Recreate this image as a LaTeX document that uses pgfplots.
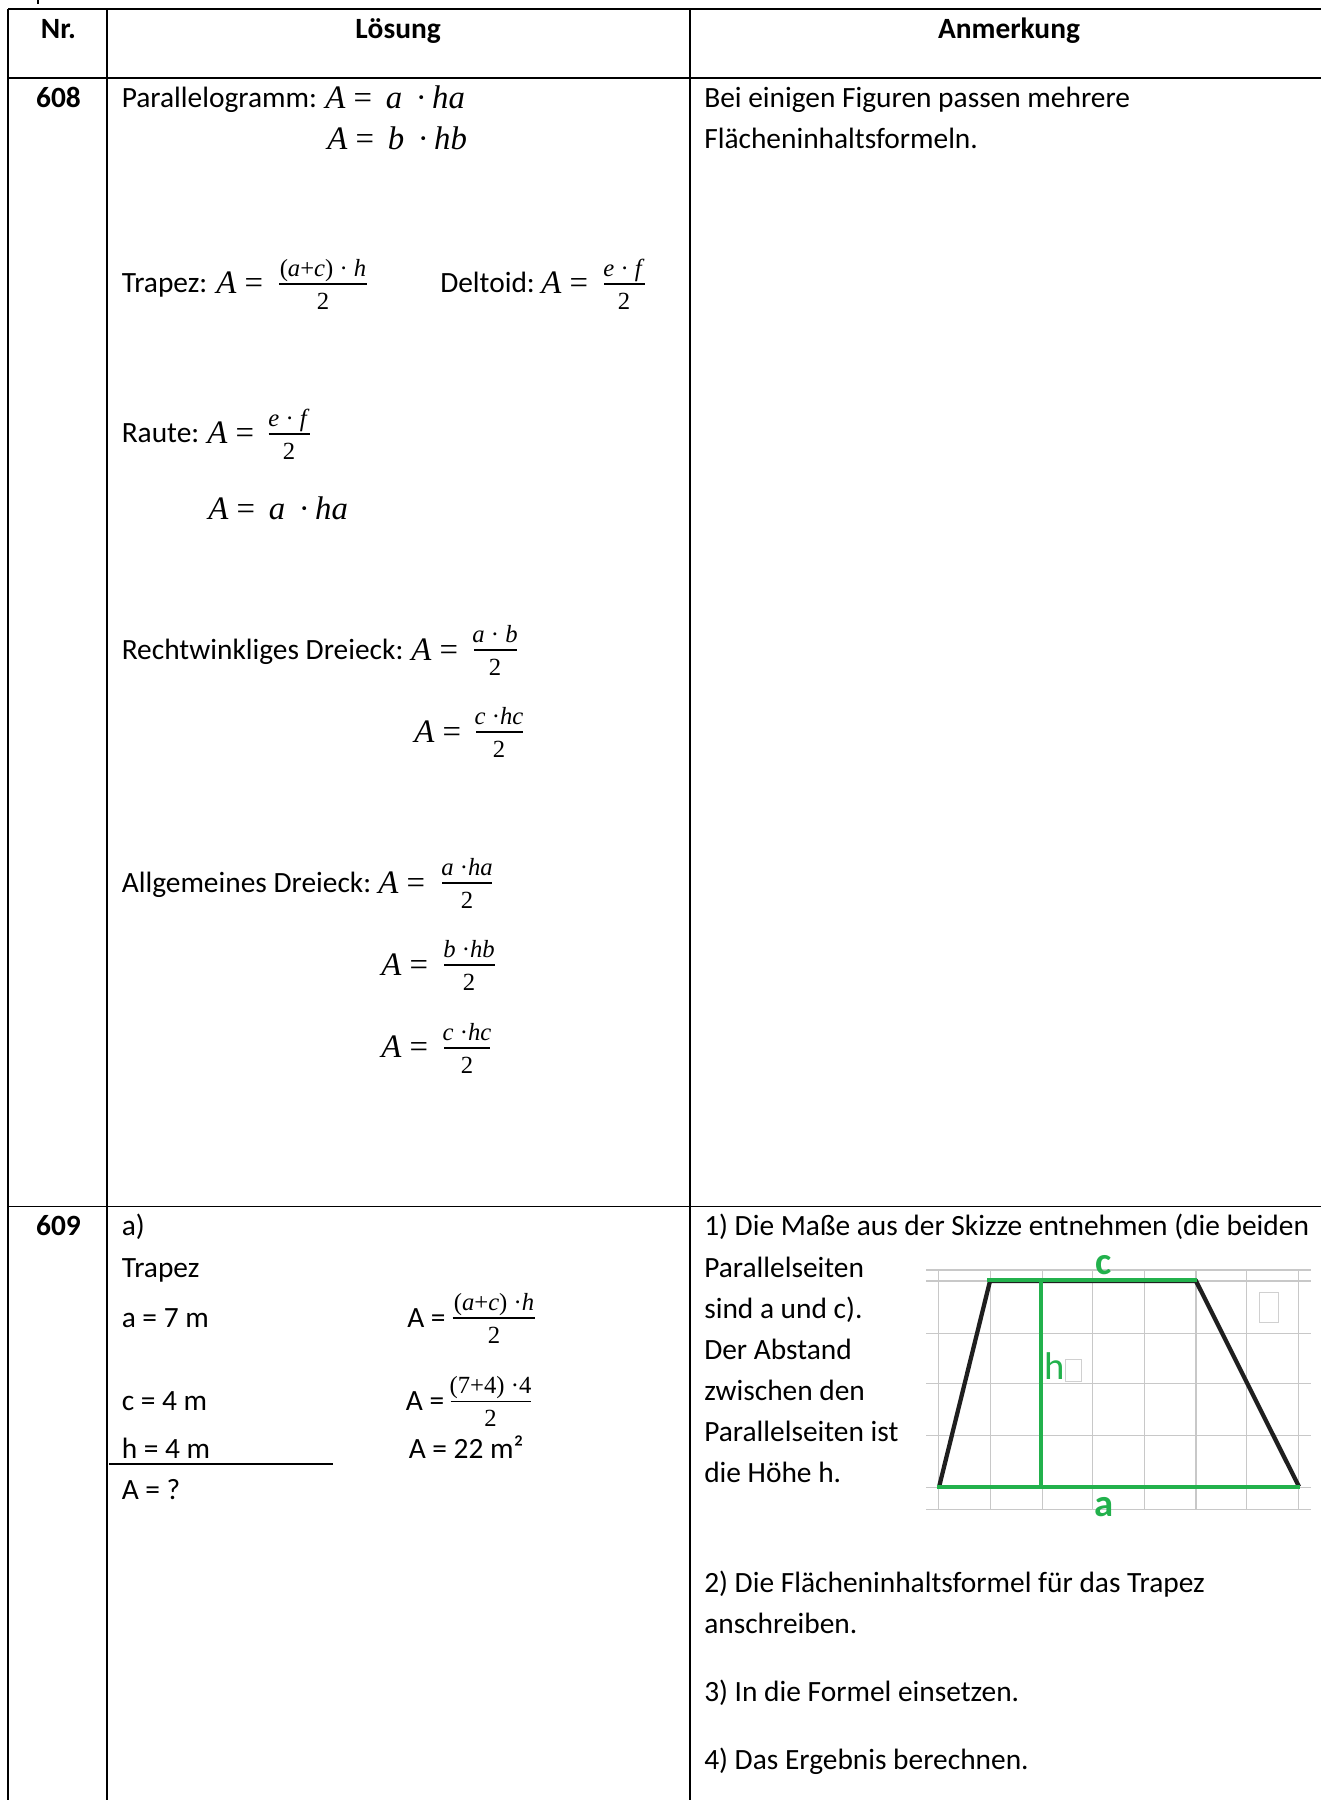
\documentclass[border=0pt]{standalone}
\usepackage{fontspec}
\usepackage{pgfplots}
\pgfplotsset{compat=1.18}
\setmainfont{Carlito}
\newfontfamily\mfont{Liberation Serif}
\definecolor{skgreen}{HTML}{22B14C}
\definecolor{skgrid}{HTML}{C8C8C8}
\definecolor{skbox}{HTML}{D0D0D0}
\newcommand{\bodyfs}{\fontsize{22.05}{26}\selectfont}
\newcommand{\mathfs}{\fontsize{24.6}{28}\selectfont}
\newcommand{\fracfs}{\fontsize{18.5}{22}\selectfont}
% text at pixel position of the reference (baseline)
\newcommand{\tx}[3]{\node[anchor=base west,inner sep=0pt,font=\bodyfs] at (axis cs:#1,#2) {#3};}
\newcommand{\hd}[3]{\node[anchor=base,inner sep=0pt,font=\bodyfs\bfseries] at (axis cs:#1,#2) {#3};}
\newcommand{\mx}[3]{\node[anchor=base west,inner sep=0pt,font=\mathfs\mfont] at (axis cs:#1,#2+1) {#3};}
\newcommand{\mv}[1]{\textit{#1}}
% fraction: left, right, centre, rule y, numerator, denominator
\newcommand{\frc}[6]{%
  \addplot[black,line width=1.4pt] coordinates {(#1,#4) (#2,#4)};
  \node[anchor=base,inner sep=0pt,font=\fracfs\mfont] at (axis cs:#3,#4-8) {#5};
  \node[anchor=base,inner sep=0pt,font=\fracfs\mfont] at (axis cs:#3,#4+25) {#6};}
\begin{document}
\begin{tikzpicture}
\begin{axis}[
    scale only axis,
    width=990.75pt,
    height=1350pt,
    xmin=0, xmax=1321,
    ymin=0, ymax=1800,
    y dir=reverse,
    hide axis,
    ]
    \addplot[draw=none,fill=white,forget plot] coordinates {(0,0) (1321,0) (1321,1800) (0,1800)} -- cycle;

    % table rules
    \addplot[black,line width=1.4pt] coordinates {(8,9) (1321,9)};
    \addplot[black,line width=1.4pt] coordinates {(8,78) (1321,78)};
    \addplot[black,line width=1.4pt] coordinates {(8,1206.5) (1321,1206.5)};
    \addplot[black,line width=1.4pt] coordinates {(8,9) (8,1800)};
    \addplot[black,line width=1.4pt] coordinates {(107,9) (107,1800)};
    \addplot[black,line width=1.4pt] coordinates {(690,9) (690,1800)};
    \addplot[black,line width=2pt] coordinates {(38,0) (38,4)};
    \addplot[black,line width=0.9pt] coordinates {(109,1464) (333,1464)};

    % head
    \hd{58.5}{38}{Nr.}
    \hd{398}{38}{Lösung}
    \hd{1009}{38}{Anmerkung}
    \hd{58.5}{107}{608}
    \hd{58.5}{1235}{609}

    % 608
    \tx{121.5}{107}{Parallelogramm:}
    \mx{325}{107}{\mv{A} =\, \mv{a} \,·\,\mv{ha}}
    \mx{327}{148}{\mv{A} =\, \mv{b} \,·\,\mv{hb}}
    \tx{121.5}{292}{Trapez:}
    \mx{216}{292}{\mv{A} =}
    \frc{279}{367}{323}{284}{(\mv{a}+\mv{c}) · \mv{h}}{2}
    \tx{440}{292}{Deltoid:}
    \mx{541}{292}{\mv{A} =}
    \frc{604}{645}{624}{284}{\mv{e} · \mv{f}}{2}
    \tx{121.5}{442}{Raute:}
    \mx{207}{442}{\mv{A} =}
    \frc{268.5}{310}{289}{434}{\mv{e} · \mv{f}}{2}
    \mx{208}{518}{\mv{A} =\, \mv{a} \,·\,\mv{ha}}
    \tx{121.5}{659}{Rechtwinkliges Dreieck:}
    \mx{411}{659}{\mv{A} =}
    \frc{474}{516.5}{495}{650}{\mv{a} · \mv{b}}{2}
    \mx{414}{741}{\mv{A} =}
    \frc{476}{523}{499}{732}{\mv{c} ·\mv{hc}}{2}
    \tx{121.5}{892}{Allgemeines Dreieck:}
    \mx{378}{892}{\mv{A} =}
    \frc{442}{492}{467}{883}{\mv{a} ·\mv{ha}}{2}
    \mx{381}{974}{\mv{A} =}
    \frc{444}{495}{469}{965}{\mv{b} ·\mv{hb}}{2}
    \mx{381}{1056}{\mv{A} =}
    \frc{444}{490}{467}{1048}{\mv{c} ·\mv{hc}}{2}
    \tx{704}{107}{Bei einigen Figuren passen mehrere}
    \tx{704}{148}{Flächeninhaltsformeln.}

    % 609
    \tx{121.5}{1235}{a)}
    \tx{121.5}{1277}{Trapez}
    \tx{121.5}{1327}{a = 7 m}
    \tx{121.5}{1410}{c = 4 m}
    \tx{121.5}{1458}{h = 4 m}
    \tx{121.5}{1499}{A = ?}
    \tx{407}{1327}{A =}
    \frc{452.7}{535}{494}{1318}{(\mv{a}+\mv{c}) ·\mv{h}}{2}
    \tx{405.7}{1410}{A =}
    \frc{450.7}{530.7}{490.5}{1401.5}{(7+4) ·4}{2}
    \tx{408.5}{1458}{A = 22 m²}

    \tx{704}{1235}{1) Die Maße aus der Skizze entnehmen (die beiden}
    \tx{704}{1277}{Parallelseiten}
    \tx{704}{1318}{sind a und c).}
    \tx{704}{1359}{Der Abstand}
    \tx{704}{1400}{zwischen den}
    \tx{704}{1441}{Parallelseiten ist}
    \tx{704}{1482}{die Höhe h.}
    \tx{704}{1592}{2) Die Flächeninhaltsformel für das Trapez}
    \tx{704}{1633}{anschreiben.}
    \tx{704}{1701}{3) In die Formel einsetzen.}
    \tx{704}{1769}{4) Das Ergebnis berechnen.}

    % sketch: grid
    \addplot[skgrid,line width=0.9pt] coordinates {(938.3,1270) (938.3,1509)};
    \addplot[skgrid,line width=0.9pt] coordinates {(990.3,1270) (990.3,1509)};
    \addplot[skgrid,line width=0.9pt] coordinates {(1042.3,1270) (1042.3,1509)};
    \addplot[skgrid,line width=0.9pt] coordinates {(1092.3,1270) (1092.3,1509)};
    \addplot[skgrid,line width=0.9pt] coordinates {(1144.3,1270) (1144.3,1509)};
    \addplot[skgrid,line width=0.9pt] coordinates {(1196,1270) (1196,1509)};
    \addplot[skgrid,line width=0.9pt] coordinates {(1246.3,1270) (1246.3,1509)};
    \addplot[skgrid,line width=0.9pt] coordinates {(1298.7,1270) (1298.7,1509)};
    \addplot[skgrid,line width=0.9pt] coordinates {(926,1270) (1311,1270)};
    \addplot[skgrid,line width=0.9pt] coordinates {(926,1281) (1311,1281)};
    \addplot[skgrid,line width=0.9pt] coordinates {(926,1333.3) (1311,1333.3)};
    \addplot[skgrid,line width=0.9pt] coordinates {(926,1383.3) (1311,1383.3)};
    \addplot[skgrid,line width=0.9pt] coordinates {(926,1435.7) (1311,1435.7)};
    \addplot[skgrid,line width=0.9pt] coordinates {(926,1487.7) (1311,1487.7)};
    \addplot[skgrid,line width=0.9pt] coordinates {(926,1509.3) (1311,1509.3)};
    \addplot[skbox,line width=0.7pt] coordinates {(1259.3,1292.7) (1278.7,1292.7) (1278.7,1322.3) (1259.3,1322.3) (1259.3,1292.7)};
    \addplot[skbox,line width=0.7pt] coordinates {(1065.3,1359.3) (1081.7,1359.3) (1081.7,1381.3) (1065.3,1381.3) (1065.3,1359.3)};

    % sketch: trapezoid
    \addplot[black!88,line width=3.2pt] coordinates {(939.3,1486) (990,1281) (1196,1281) (1299,1486.7)};
    \addplot[skgreen,line width=3.2pt] coordinates {(987.3,1280) (1196.7,1280)};
    \addplot[skgreen,line width=3.2pt] coordinates {(936.7,1487) (1300,1487)};
    \addplot[skgreen,line width=3.2pt] coordinates {(1040.7,1280) (1040.7,1485)};
    \node[anchor=base,inner sep=0pt,text=skgreen,font=\fontsize{29}{32}\selectfont\bfseries] at (axis cs:1104,1274) {c};
    \node[anchor=base,inner sep=0pt,text=skgreen,font=\fontsize{29}{32}\selectfont\bfseries] at (axis cs:1104,1516) {a};
    \node[anchor=base,inner sep=0pt,text=skgreen,font=\fontsize{29}{32}\selectfont] at (axis cs:1054.3,1379) {h};
\end{axis}
\end{tikzpicture}
\end{document}
